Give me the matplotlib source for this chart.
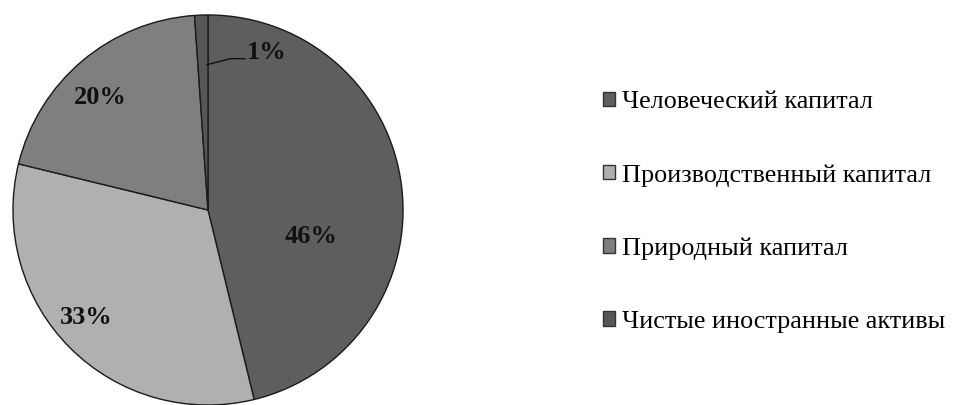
import matplotlib
matplotlib.use("Agg")
import matplotlib.pyplot as plt
from matplotlib.patches import Patch

categories = ["Человеческий капитал", "Производственный капитал",
              "Природный капитал", "Чистые иностранные активы"]
values = [46.2, 32.6, 20.1, 1.1]
pct_labels = ["46%", "33%", "20%", "1%"]
colors = ["#5e5e5e", "#b0b0b0", "#7f7f7f", "#575757"]

plt.rcParams['font.family'] = ['Liberation Serif', 'DejaVu Serif']

fig = plt.figure(figsize=(9.54, 4.05), dpi=100)
W, H = 954, 405
cx, cy, r = 208, 210, 196
ax = fig.add_axes([(cx - r) / W, (H - cy - r) / H, 2 * r / W, 2 * r / H])
wedges, _ = ax.pie(values, colors=colors, startangle=90, counterclock=False,
                   radius=1, wedgeprops=dict(edgecolor="#1a1a1a", linewidth=1.0))
ax.set_xlim(-1.005, 1.005)
ax.set_ylim(-1.005, 1.005)
ax.set_aspect('equal')
ax.axis('off')

label_pos = [(0.526, -0.138), (-0.622, -0.551), (-0.551, 0.577), (0.30, 0.81)]
for (x, y), t in zip(label_pos, pct_labels):
    ax.text(x, y, t, ha='center', va='center', fontsize=19, fontweight='bold',
            color='#111111')
# leader line for the small slice
ax.plot([-0.005, 0.115, 0.19], [0.745, 0.776, 0.776], color='#111111', lw=1.0)

handles = [Patch(facecolor=c, edgecolor='#333333', linewidth=1.0) for c in colors]
fig.legend(handles, categories, loc='center left',
           bbox_to_anchor=(603 / W, (H - 212) / H), frameon=False,
           fontsize=18.8, handlelength=0.47, handleheight=0.47,
           handletextpad=0.25, labelspacing=1.95, borderpad=0, borderaxespad=0)

fig.savefig("out.png", dpi=100)
